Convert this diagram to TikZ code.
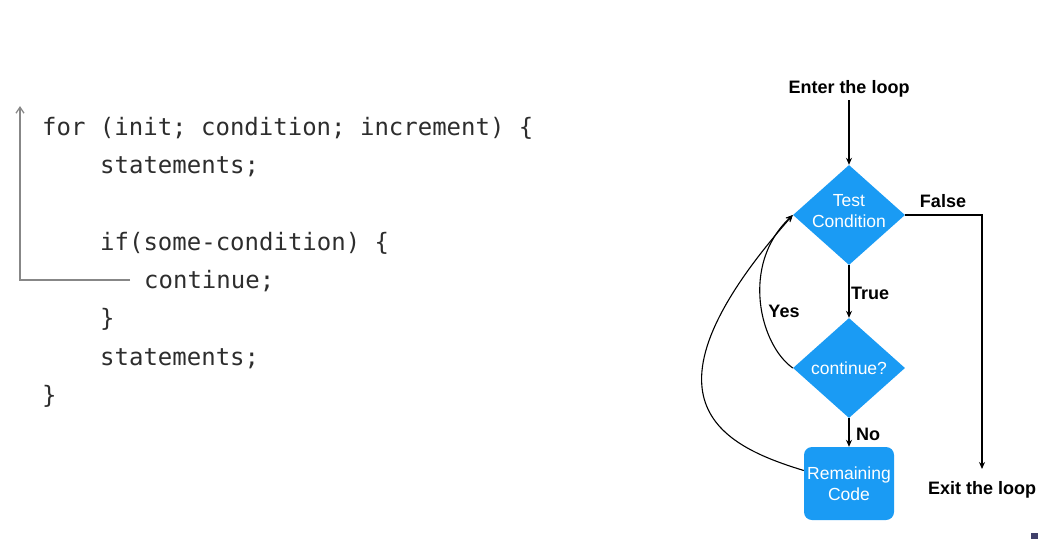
\documentclass[tikz,border=0pt]{standalone}
\usepackage{fontspec}
\setmainfont{Liberation Sans}
\newfontfamily\codefont{DejaVu Sans Mono}
\usetikzlibrary{shapes.geometric,arrows.meta}
\definecolor{flowblue}{RGB}{26,155,244}
\definecolor{codegray}{RGB}{45,45,45}
\definecolor{loopgray}{RGB}{135,135,135}
\tikzset{
  codeline/.style={anchor=base west,inner sep=0pt,font=\codefont\fontsize{24}{28}\selectfont,text=codegray},
  dia/.style={diamond,fill=flowblue,minimum width=112pt,minimum height=100pt,inner sep=0pt},
  dtext/.style={text=white,align=center,font=\fontsize{17.5}{21}\selectfont,inner sep=0pt},
  boxstep/.style={rectangle,rounded corners=8pt,fill=flowblue,minimum width=90pt,minimum height=73pt,inner sep=0pt,text=white,align=center,font=\fontsize{17.5}{21}\selectfont},
  lbl/.style={font=\bfseries\fontsize{18}{20}\selectfont,inner sep=0pt},
  arr/.style={-{Stealth[length=7pt,width=6pt]},line width=1.1pt},
  gline/.style={draw=loopgray,line width=1.3pt}
}
\begin{document}
\begin{tikzpicture}[x=1pt,y=-1pt]
\useasboundingbox (0,0) rectangle (1039,539);
% code
\node[codeline] (l1) at (42,135) {for (init; condition; increment) \{};
\node[codeline] (l2) at (100,173.3) {statements;};
\node[codeline] (l3) at (100,250) {if(some-condition) \{};
\node[codeline] (l4) at (144,288.3) {continue;};
\node[codeline] (l5) at (100,326.6) {\}};
\node[codeline] (l6) at (100,365) {statements;};
\node[codeline] (l7) at (42,403.3) {\}};
\coordinate (gs) at (130,280);
\coordinate (gc) at (20,280);
\coordinate (ge) at (20,106);
\draw[gline,-{Straight Barb[length=6pt,width=8pt]}] (gs) -- (gc) -- (ge);
% flowchart
\node[lbl] (enter) at (849,89) {Enter the loop};
\node[dia] (tc) at (849,215) {};
\node[dtext] (tct) at (849,211) {Test\\Condition};
\node[dia] (cont) at (849,368) {};
\node[dtext] (contt) at (cont) {continue?};
\node[boxstep] (rc) at (849,483.5) {Remaining\\Code};
\node[lbl] (exit) at (982,490) {Exit the loop};
\coordinate (exitend) at (982,469);
\coordinate (fc) at (982,215);
\node[lbl] (false) at (943,201) {False};
\node[lbl] (true) at (870,293) {True};
\node[lbl] (no) at (868,434) {No};
\node[lbl] (yes) at (784,311) {Yes};
\coordinate (enterstart) at (849,100);
\draw[arr] (enterstart) -- (tc.north);
\draw[arr] (tc.south) -- (cont.north);
\draw[arr] (cont.south) -- (rc.north);
\draw[arr] (tc.east) -- (fc) -- (exitend);
\draw[arr] (cont.west) .. controls (760,345) and (740,265) .. (tc.west);
\draw[arr] ([yshift=13pt]rc.west) .. controls (720,445) and (630,400) .. (tc.west);
\fill[fill={rgb,255:red,64;green,64;blue,106}] (1031,533) rectangle (1038,539);
\end{tikzpicture}
\end{document}
